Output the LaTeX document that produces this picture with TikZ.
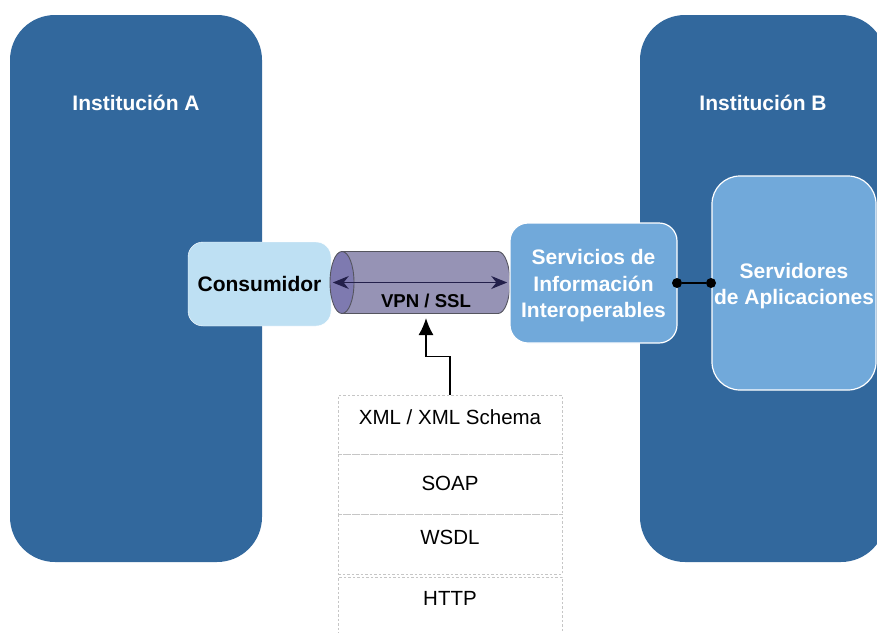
\documentclass[tikz,border=0pt]{standalone}
\usepackage{fontspec}
\setmainfont{Liberation Sans}
\usepackage{tikz}
\usetikzlibrary{arrows.meta}
\definecolor{instblue}{RGB}{50,104,157}
\definecolor{paleblue}{RGB}{190,224,243}
\definecolor{midblue}{RGB}{113,169,218}
\definecolor{vpnbody}{RGB}{150,147,181}
\definecolor{vpnend}{RGB}{126,122,176}
\definecolor{vpnedge}{RGB}{85,85,95}
\definecolor{vpnnavy}{RGB}{35,32,75}

\begin{document}
\begin{tikzpicture}[x=1pt,y=-1pt,
  inst/.style={rectangle,fill=instblue,rounded corners=45pt,inner sep=0pt},
  insttitle/.style={anchor=base,text=white,font=\fontsize{21}{25}\selectfont\bfseries},
  service/.style={rectangle,fill=midblue,draw=white,line width=1.2pt,inner sep=0pt,text=white,align=center,font=\fontsize{21}{26.5}\selectfont\bfseries},
  tube/.style={draw=vpnedge,line width=0.9pt},
  layer/.style={rectangle,draw=gray!45,dash pattern=on 2.5pt off 2pt,line width=0.9pt,minimum width=224pt,inner sep=0pt},
  layertext/.style={anchor=base,font=\fontsize{20.5}{24}\selectfont},
  dot/.style={circle,fill=black,minimum size=10pt,inner sep=0pt}]
\useasboundingbox (0,0) rectangle (877,632);
\node [inst,minimum width=252pt,minimum height=547pt] (insta) at (136,288.5) {};
\node [inst,minimum width=246pt,minimum height=547pt] (instb) at (763,288.5) {};
\node [insttitle] (titlea) at (136,110) {Institución A};
\node [insttitle] (titleb) at (763,110) {Institución B};
\node [rectangle,fill=paleblue,draw=white,rounded corners=15pt,minimum width=143pt,minimum height=84pt,inner sep=0pt,font=\fontsize{21}{25}\selectfont\bfseries] (cons) at (259.5,284) {Consumidor};
% tunnel: far end, body, near end
\filldraw [tube,fill=vpnbody] (498,282.5) ellipse [x radius=12pt,y radius=31pt];
\fill [vpnbody] (342,251.5) rectangle (498,313.5);
\draw [tube] (342,251.5) -- (498,251.5) (342,313.5) -- (498,313.5);
\filldraw [tube,fill=vpnend] (342,282.5) ellipse [x radius=12pt,y radius=31pt];
\node [minimum width=180pt,minimum height=62pt,inner sep=0pt] (vpn) at (420,282.5) {};
\draw [{Stealth[length=16pt,width=13pt]}-{Stealth[length=16pt,width=13pt]},vpnnavy,line width=1.2pt,shorten <=3pt,shorten >=3pt] (vpn.west) -- (vpn.east);
\node [anchor=base,font=\fontsize{18.6}{22}\selectfont\bfseries] (vpnlabel) at (426,307) {VPN / SSL};
\coordinate (vpnfeed) at (426,318);
\node [service,rounded corners=18pt,minimum width=167pt,minimum height=120pt] (serv) at (593.5,283) {};
\node [service,draw=none,fill=none] (servtext) at (593.5,286) {Servicios de\\Información\\Interoperables};
\node [service,rounded corners=28pt,minimum width=164pt,minimum height=214pt] (apps) at (794,283) {};
\node [service,draw=none,fill=none] (appstext) at (794,286) {Servidores\\de Aplicaciones};
\node [dot] (ds) at (677,283) {};
\node [dot] (da) at (711,283) {};
\draw [line width=1.5pt] (ds) -- (da);
\node [layer,minimum height=59pt] (xmlbox) at (450,424.5) {};
\node [layer,minimum height=60pt] (soapbox) at (450,484) {};
\node [layer,minimum height=60pt] (wsdlbox) at (450,544) {};
\node [layer,minimum height=73pt] (httpbox) at (450,613.5) {};
\node [layertext] at (450,424) {XML / XML Schema};
\node [layertext] at (450,490) {SOAP};
\node [layertext] at (450,544) {WSDL};
\node [layertext] at (450,605) {HTTP};
\draw [-{Latex[length=17pt,width=15pt]},line width=1.5pt] (xmlbox.north) -- ++(0,-38) -| (vpnfeed);
\end{tikzpicture}
\end{document}
